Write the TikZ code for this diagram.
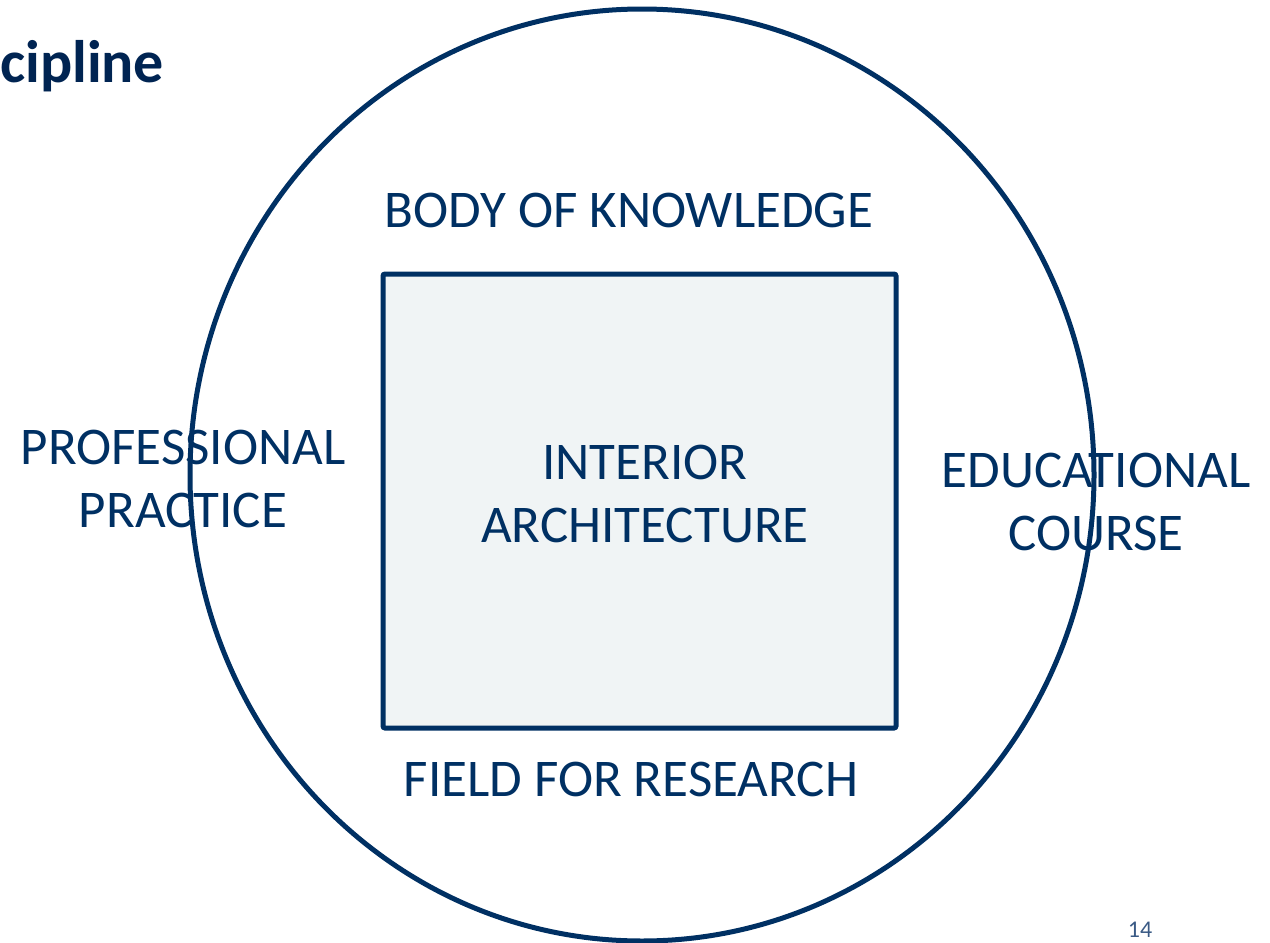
\documentclass[tikz,border=0pt]{standalone}
\usepackage{fontspec}
\setmainfont{Carlito}
\definecolor{navy}{HTML}{003063}
\definecolor{titlenavy}{HTML}{002452}
\definecolor{boxfill}{HTML}{F0F4F5}
\definecolor{pagegray}{HTML}{3A5A85}
\begin{document}
\begin{tikzpicture}[x=1pt,y=-1pt,
  lbl/.style={text=navy, font=\fontsize{53}{63}\selectfont, align=center, inner sep=0pt},
  outline/.style={draw=navy, line width=5pt}]
\useasboundingbox (0,0) rectangle (1270,943);
\draw[outline] (642,475) ellipse [x radius=452, y radius=466];
\node[outline, fill=boxfill, rounded corners=2pt, minimum width=513pt, minimum height=454pt, inner sep=0pt] (box) at (639.5,501) {};
\node[lbl] (center) at (645,494) {INTERIOR\\ARCHITECTURE};
\node[lbl] (top) at (629,210) {BODY OF KNOWLEDGE};
\node[lbl] (bottom) at (631,779) {FIELD FOR RESEARCH};
\node[lbl] (left) at (183,479) {PROFESSIONAL\\PRACTICE};
\node[lbl] (right) at (1096,502) {EDUCATIONAL\\COURSE};
\node[text=titlenavy, font=\fontsize{60}{66}\selectfont\bfseries, anchor=base west, inner sep=0pt] (title) at (0,82) {cipline};
\node[text=pagegray, font=\fontsize{24}{28}\selectfont, anchor=base, inner sep=0pt] (page) at (1140,937) {14};
\end{tikzpicture}
\end{document}
